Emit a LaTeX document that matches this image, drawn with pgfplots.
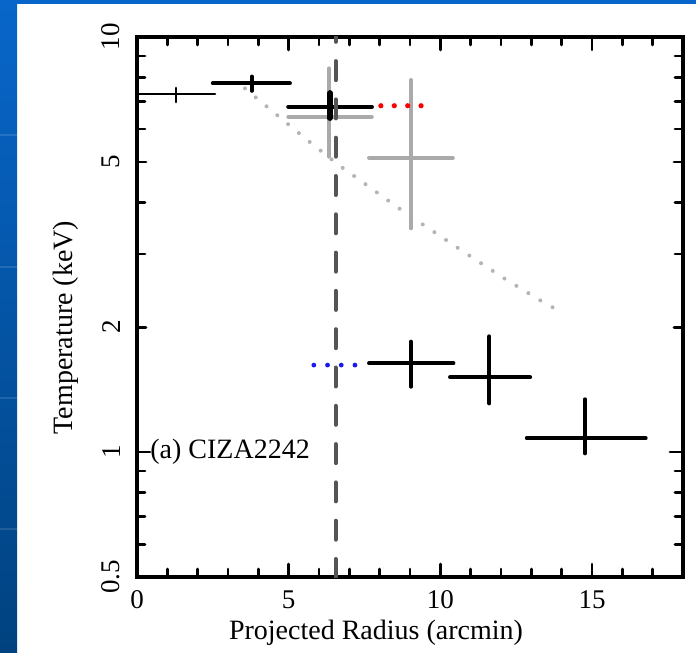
\documentclass[border=0pt]{standalone}
\usepackage{fontspec}
\setmainfont{Liberation Serif}
\usepackage{pgfplots}
\pgfplotsset{compat=1.18}
\definecolor{slideblue}{HTML}{0866CA}
\definecolor{slidedark}{HTML}{00427F}
\definecolor{errgray}{HTML}{AAAAAA}
\definecolor{dotgray}{HTML}{B4B4B4}
\definecolor{dashgray}{HTML}{555555}
\definecolor{limblue}{HTML}{1A1AF0}
\newcommand{\tickfont}{\fontsize{13.5}{16}\selectfont}
\newcommand{\lblfont}{\fontsize{14}{16}\selectfont}

\begin{document}
\begin{tikzpicture}
% slide background
\shade[top color=slideblue, bottom color=slidedark] (0,0) rectangle (8.5pt,326.5pt);
\fill[slideblue] (0,324.5pt) rectangle (348pt,326.5pt);
\foreach \y in {62,127.5,193,259} \draw[white, opacity=0.12, line width=1pt] (0,\y pt) -- (8.5pt,\y pt);

\begin{axis}[
  at={(68.5pt,38pt)}, anchor=south west,
  scale only axis, width=273pt, height=270pt,
  xmin=0, xmax=18, ymin=0.5, ymax=10, ymode=log,
  xtick={0,5,10,15},
  minor xtick={1,2,3,4,6,7,8,9,11,12,13,14,16,17},
  ytick={1,10}, yticklabels={1,10},
  extra y ticks={0.5,2,5}, extra y tick labels={0.5,2,5},
  extra y tick style={major tick length=4.5pt},
  minor ytick={0.6,0.7,0.8,0.9,3,4,6,7,8,9},
  tick align=inside,
  major tick length=6.5pt, minor tick length=4pt,
  every tick/.style={black, line width=1.4pt, line cap=round},
  axis line style={line width=1.7pt},
  /pgf/number format/assume math mode=true,
  tick label style={font=\tickfont},
  xticklabel style={inner ysep=6.5pt},
  yticklabel style={rotate=90, anchor=south, inner xsep=0pt, inner ysep=8.5pt, outer sep=0pt},
  xlabel={Projected Radius (arcmin)},
  ylabel={Temperature (keV)},
  label style={font=\lblfont},
  xlabel style={at={(axis description cs:0.4377,-0.1037)}, anchor=center},
  ylabel style={at={(axis description cs:-0.130,0.462)}, anchor=center},
]
% model curve
\addplot[dotgray, line width=2pt, line cap=round, dash pattern=on 0pt off 7pt] coordinates {
  (3.56,7.52) (4.61,6.49) (5.61,5.65) (6.66,4.91) (7.72,4.32) (8.80,3.79)
  (9.90,3.35) (11.0,2.96) (12.11,2.62) (13.25,2.33) (14.0,2.17)};
% gray measurements
\addplot[errgray, line width=2pt, line cap=round, unbounded coords=jump] coordinates {
  (4.99,6.42) (7.74,6.42) (nan,nan) (6.33,5.15) (6.33,8.40) (nan,nan)
  (7.65,5.12) (10.41,5.12) (nan,nan) (9.03,3.46) (9.03,7.88)};
% innermost bin
\addplot[black, line width=1.3pt, line cap=round, unbounded coords=jump] coordinates {
  (0,7.29) (2.57,7.29) (nan,nan) (1.29,6.97) (1.29,7.54)};
% black bins
\addplot[black, line width=2pt, line cap=round, unbounded coords=jump] coordinates {
  (2.50,7.73) (5.04,7.73) (nan,nan) (3.78,7.42) (3.78,8.03) (nan,nan)
  (7.65,1.636) (10.43,1.636) (nan,nan) (9.03,1.437) (9.03,1.845) (nan,nan)
  (10.32,1.514) (12.96,1.514) (nan,nan) (11.62,1.31) (11.62,1.90) (nan,nan)
  (12.85,1.08) (16.77,1.08) (nan,nan) (14.77,0.993) (14.77,1.34)};
\addplot[black, line width=2.2pt, line cap=round] coordinates {(4.99,6.79) (7.74,6.79)};
\addplot[black, line width=2.6pt, line cap=round] coordinates {(6.36,6.37) (6.36,7.34)};
% dotted limits
\addplot[red, line width=2.6pt, line cap=round, dash pattern=on 0pt off 6.7pt] coordinates {(8.04,6.83) (9.39,6.83)};
\addplot[limblue, line width=2.4pt, line cap=round, dash pattern=on 0pt off 6.85pt] coordinates {(5.83,1.62) (7.19,1.62)};
% shock position
\addplot[dashgray, line width=2pt, line cap=round, dash pattern=on 9.5pt off 9.65pt, dash phase=7.1pt] coordinates {(6.55,10) (6.55,0.5)};
\node[anchor=west, inner sep=0pt, xshift=6.5pt, font=\lblfont] at (axis cs:0,1) {(a) CIZA2242};
\end{axis}
\pgfresetboundingbox
\useasboundingbox (0,0) rectangle (348pt,326.5pt);
\end{tikzpicture}
\end{document}
